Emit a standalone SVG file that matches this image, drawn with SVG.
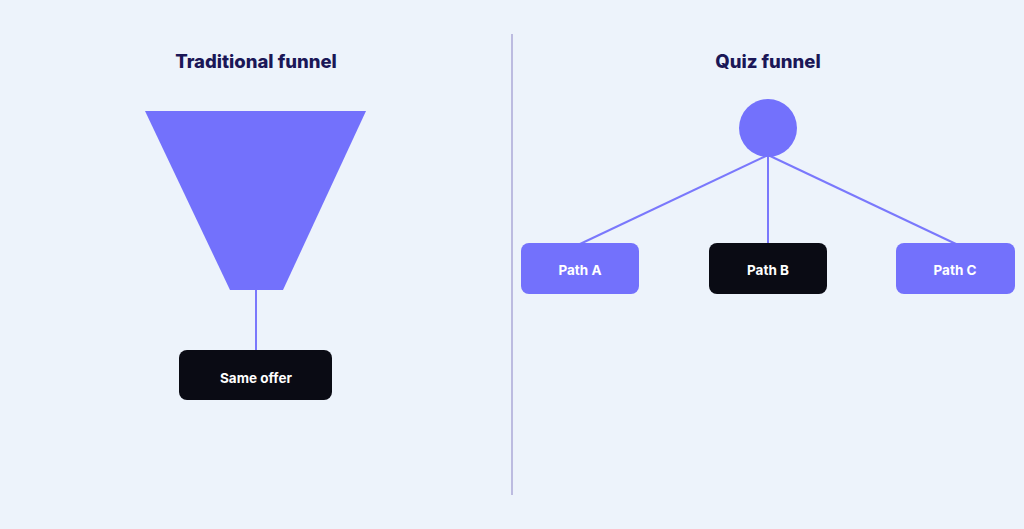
<svg xmlns="http://www.w3.org/2000/svg" width="1024" height="529" viewBox="0 0 1024 529">
<style>
.title{font-family:Inter,"Liberation Sans",sans-serif;font-weight:800;font-size:18.5px;fill:#1b1757;text-anchor:middle}
.lbl{font-family:Inter,"Liberation Sans",sans-serif;font-weight:700;font-size:13.5px;fill:#ffffff;text-anchor:middle}
.conn{stroke:#7a78fc;stroke-width:2;fill:none}
.purple{fill:#7371fc}
.dark{fill:#0a0b14}
</style>
<rect width="1024" height="529" fill="#edf3fb"/>
<line x1="512" y1="34" x2="512" y2="495" stroke="#bcbbe0" stroke-width="2"/>
<text class="title" x="256" y="68">Traditional funnel</text>
<text class="title" x="768" y="68">Quiz funnel</text>
<g id="connectors">
<line class="conn" x1="256" y1="289" x2="256" y2="351"/>
<line class="conn" x1="768" y1="155" x2="580" y2="244"/>
<line class="conn" x1="768" y1="155" x2="768" y2="244"/>
<line class="conn" x1="768" y1="155" x2="956" y2="244"/>
</g>
<g id="funnel">
<polygon class="purple" points="145,111 366,111 283,290 230,290"/>
</g>
<g id="same-offer">
<rect class="dark" x="179" y="350" width="153" height="50" rx="8"/>
<text class="lbl" x="256" y="382.5">Same offer</text>
</g>
<g id="quiz">
<circle class="purple" cx="768" cy="128" r="29"/>
</g>
<g id="path-a">
<rect class="purple" x="521" y="243" width="118" height="51" rx="8"/>
<text class="lbl" x="580" y="275">Path A</text>
</g>
<g id="path-b">
<rect class="dark" x="709" y="243" width="118" height="51" rx="8"/>
<text class="lbl" x="768" y="275">Path B</text>
</g>
<g id="path-c">
<rect class="purple" x="896" y="243" width="119" height="51" rx="8"/>
<text class="lbl" x="955" y="275">Path C</text>
</g>
</svg>
